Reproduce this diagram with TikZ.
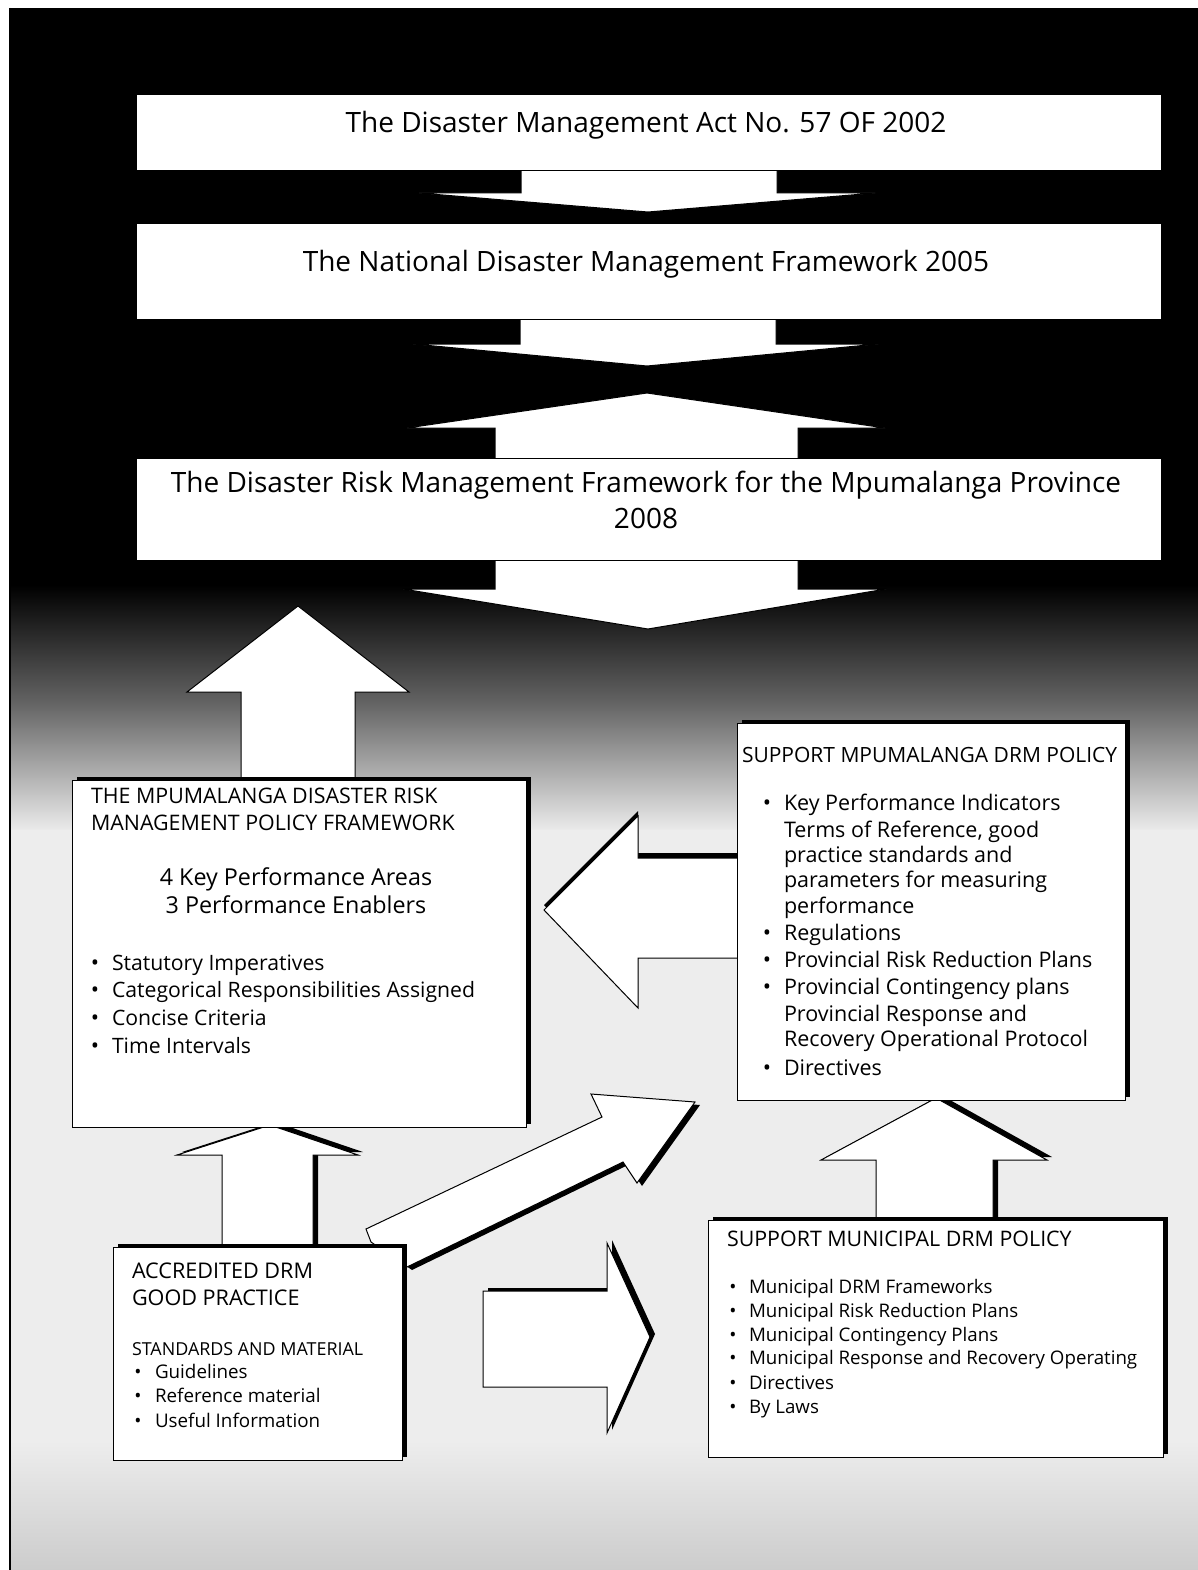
\documentclass[tikz,border=0pt]{standalone}
\usepackage{fontspec}
\setmainfont{Open Sans}
\tikzset{
  shp/.style={fill=white, draw=black, line width=1pt, line join=miter},
  shd/.style={shp, preaction={fill=black, transform canvas={shift={(#1)}}}},
  shd/.default={5pt,3pt},
  boxnode/.style={anchor=north west, inner sep=0pt, outer sep=0pt},
  txt/.style={inner sep=0pt, outer sep=0pt, text=black},
  ttl/.style={txt, anchor=base, font=\fontsize{28}{34}\selectfont},
  tmd/.style={txt, anchor=base west, font=\fontsize{21.3}{26}\selectfont},
  tmc/.style={txt, anchor=base, font=\fontsize{23.3}{28}\selectfont},
  tsm/.style={txt, anchor=base west, font=\fontsize{18.8}{22}\selectfont},
  bul/.style={txt, anchor=base, font=\fontsize{22}{24}\selectfont},
  bus/.style={txt, anchor=base, font=\fontsize{19}{22}\selectfont},
}
\begin{document}
\begin{tikzpicture}[x=1pt,y=-1pt]
\useasboundingbox (0,0) rectangle (1198,1570);
% ---------- background (scanned, dark at the top) ----------
\fill[white] (0,0) rectangle (1198,1570);
\fill[black] (10,8) rectangle (1198,585);
\shade[top color=black, bottom color=black!62] (10,585) rectangle (1198,700);
\shade[top color=black!62, bottom color=black!8] (10,700) rectangle (1198,830);
\fill[black!7] (10,830) rectangle (1198,1440);
\shade[top color=black!7, bottom color=black!20] (10,1440) rectangle (1198,1570);
\draw[line width=1.5pt] (10,8) -- (10,1570);

% ---------- block arrows ----------
% A -> B
\draw[shp] (521,165) -- (521,193) -- (419,193) -- (648,212) -- (875,193) -- (777,193) -- (777,165) -- cycle;
% B -> C
\draw[shp] (520,312) -- (520,344) -- (413,344) -- (647,366) -- (878,344) -- (776,344) -- (776,312) -- cycle;
% C -> B (up)
\draw[shp] (495,465) -- (495,428) -- (407,428) -- (647,393) -- (885,428) -- (798,428) -- (798,465) -- cycle;
% C -> down
\draw[shp] (495,552) -- (495,589) -- (403,589) -- (648,629) -- (886,589) -- (798,589) -- (798,552) -- cycle;
% D -> up
\draw[shp] (241,786) -- (241,692) -- (187,692) -- (298,606) -- (409,692) -- (355,692) -- (355,786) -- cycle;
% E -> D (left)
\draw[shd={0pt,5pt}] (745,858) -- (638,858) -- (638,816) -- (544,910) -- (638,1008) -- (638,958) -- (745,958) -- cycle;
% F -> D (up)
\draw[shd] (222,1252) -- (222,1155) -- (177,1155) -- (270,1125) -- (358,1155) -- (313,1155) -- (313,1252) -- cycle;
% G -> E (up)
\draw[shd] (876,1226) -- (876,1160) -- (821,1160) -- (936,1098) -- (1047,1160) -- (993,1160) -- (993,1226) -- cycle;
% F -> E (diagonal)
\draw[shd={5pt,-3pt}] (366,1229) -- (602,1117) -- (591,1094) -- (695,1102) -- (637,1183) -- (623,1162) -- (407,1267) -- (371,1242) -- cycle;
% F -> G (right)
\draw[shd] (483,1387) -- (483,1291) -- (607,1291) -- (607,1243) -- (650,1337) -- (607,1433) -- (607,1387) -- cycle;

% ---------- boxes ----------
\node[shp, boxnode, minimum width=1025pt, minimum height=76pt] (A) at (136,95) {};
\node[shp, boxnode, minimum width=1025pt, minimum height=95pt] (B) at (136,224) {};
\node[shp, boxnode, minimum width=1025pt, minimum height=102pt] (C) at (136,458) {};
\node[shd, boxnode, minimum width=454pt, minimum height=347pt] (D) at (72,780) {};
\node[shd, boxnode, minimum width=388pt, minimum height=377pt] (E) at (737,723) {};
\node[shd, boxnode, minimum width=289pt, minimum height=213pt] (F) at (113,1247) {};
\node[shd, boxnode, minimum width=455pt, minimum height=237pt] (G) at (708,1220) {};

% ---------- texts ----------
\node[ttl] (tA) at (646,133) {The Disaster Management Act No. 57 OF 2002};
\node[ttl] (tB) at (646,271) {The National Disaster Management Framework 2005};
\node[ttl] (tC1) at (646,492) {The Disaster Risk Management Framework for the Mpumalanga Province};
\node[ttl] (tC2) at (646,528) {2008};

\node[tmd, font=\fontsize{21.4}{26}\selectfont] (d1) at (91,803) {THE MPUMALANGA DISASTER RISK};
\node[tmd, font=\fontsize{21.4}{26}\selectfont] (d2) at (91,830) {MANAGEMENT POLICY FRAMEWORK};
\node[tmc] (d3) at (296,885) {4 Key Performance Areas};
\node[tmc] (d4) at (296,913) {3 Performance Enablers};
\foreach \yy/\tt [count=\i] in {970/Statutory Imperatives, 997/Categorical Responsibilities Assigned, 1025/Concise Criteria, 1053/Time Intervals}{
  \node[bul] (db\i) at (95,\yy) {•};
  \node[tmd, font=\fontsize{21.2}{24}\selectfont] (dt\i) at (112,\yy) {\tt};
}

\node[tmd, font=\fontsize{21}{26}\selectfont] (e0) at (742,762) {SUPPORT MPUMALANGA DRM POLICY};
\foreach \yy [count=\i] in {810,940,967,994,1075}{ \node[bul] (eb\i) at (767,\yy) {•}; }
\foreach \yy/\tt [count=\i] in {810/Key Performance Indicators, 837/{Terms of Reference, good}, 862/practice standards and, 887/parameters for measuring, 913/performance, 940/Regulations, 967/Provincial Risk Reduction Plans, 994/Provincial Contingency plans, 1021/Provincial Response and, 1046/Recovery Operational Protocol, 1075/Directives}{
  \node[tmd, font=\fontsize{21.5}{24}\selectfont] (et\i) at (784,\yy) {\tt};
}

\node[tmd, font=\fontsize{21.6}{26}\selectfont] (f1) at (132,1278) {ACCREDITED DRM};
\node[tmd, font=\fontsize{21.6}{26}\selectfont] (f2) at (132,1305) {GOOD PRACTICE};
\node[tsm, font=\fontsize{17.9}{20}\selectfont] (f3) at (132,1355) {STANDARDS AND MATERIAL};
\foreach \yy/\tt [count=\i] in {1378/Guidelines, 1402/Reference material, 1427/Useful Information}{
  \node[bus] (fb\i) at (138,\yy) {•};
  \node[tsm] (ft\i) at (155,\yy) {\tt};
}

\node[tmd, font=\fontsize{21.4}{26}\selectfont] (g0) at (727,1246) {SUPPORT MUNICIPAL DRM POLICY};
\foreach \yy/\tt [count=\i] in {1293/Municipal DRM Frameworks, 1317/Municipal Risk Reduction Plans, 1341/Municipal Contingency Plans, 1364/Municipal Response and Recovery Operating, 1389/Directives, 1413/By Laws}{
  \node[bus] (gb\i) at (733,\yy) {•};
  \node[tsm, font=\fontsize{18.7}{22}\selectfont] (gt\i) at (749,\yy) {\tt};
}
\end{tikzpicture}
\end{document}
